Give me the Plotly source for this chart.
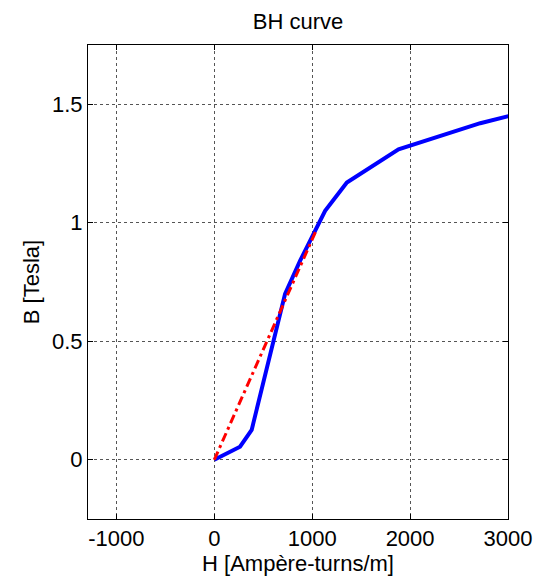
import plotly.graph_objects as go

# Measured BH curve (blue)
H_meas = [0, 263, 382, 723, 877, 979, 1132, 1354, 1882, 2717, 3006]
B_meas = [0, 0.055, 0.126, 0.70, 0.84, 0.925, 1.05, 1.17, 1.31, 1.42, 1.45]

# Linear approximation (red dash-dot)
H_lin = [0, 1040]
B_lin = [0, 0.967]

x_ticks = [-1000, 0, 1000, 2000, 3000]
y_ticks = [0, 0.5, 1, 1.5]

fig = go.Figure()
fig.add_trace(go.Scatter(x=H_meas, y=B_meas, mode="lines",
                         line=dict(color="#0000ff", width=4), showlegend=False))
fig.add_trace(go.Scatter(x=H_lin, y=B_lin, mode="lines",
                         line=dict(color="#ff0000", width=3, dash="9px,4px,3px,4px"),
                         showlegend=False))

FS = 22
font = dict(family="Liberation Sans, Arial, sans-serif", size=FS, color="black")
axis_common = dict(showline=True, linecolor="black", linewidth=1, mirror="ticks",
                   ticks="inside", ticklen=5, tickcolor="black",
                   showgrid=True, gridcolor="#555555", griddash="dot", gridwidth=1,
                   zeroline=False, tickfont=font, automargin=False)

fig.update_layout(
    width=542, height=585,
    margin=dict(l=88, r=34, t=45, b=66),
    plot_bgcolor="white", paper_bgcolor="white",
    font=font,
    title=dict(text="BH curve", x=(88 + 508) / 2 / 542, xanchor="center",
               y=1 - 21/585, yanchor="middle", font=font),
    xaxis=dict(range=[-1290, 3000], tickvals=x_ticks, ticktext=[str(v) for v in x_ticks],
               title=dict(text="H [Ampère-turns/m]", font=font, standoff=0), **axis_common),
    yaxis=dict(range=[-0.25, 1.75], tickvals=y_ticks, ticktext=["0", "0.5", "1", "1.5"],
               title=dict(text="B [Tesla]", font=font, standoff=6), **axis_common),
)

fig.write_html("out.html")
